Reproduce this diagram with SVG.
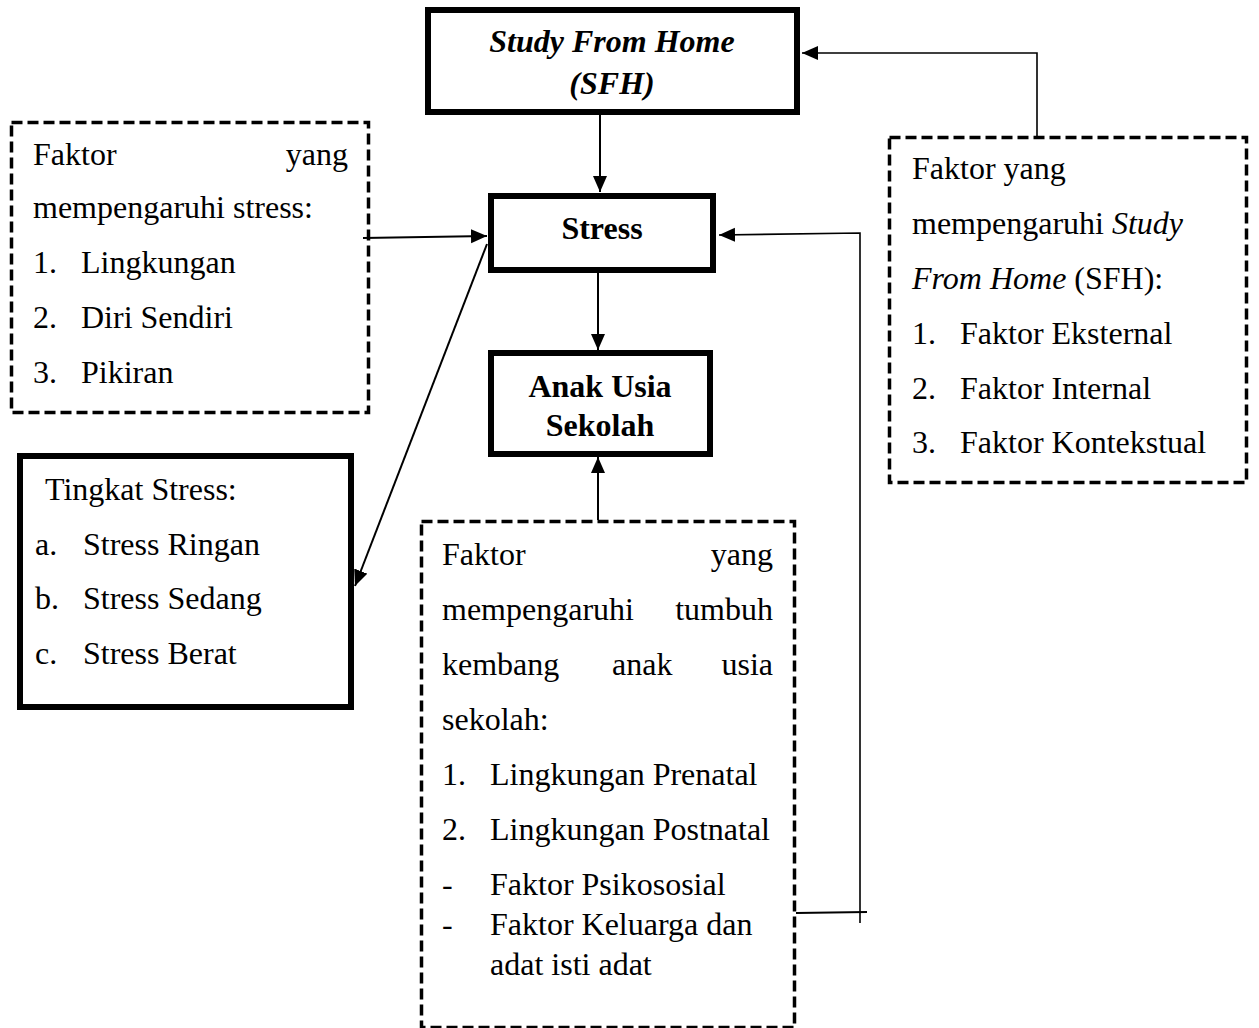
<svg xmlns="http://www.w3.org/2000/svg" width="1259" height="1028" viewBox="0 0 1259 1028">
<style>
text{font-family:"Liberation Serif","Times New Roman",serif;font-size:32px;fill:#000}
.b{font-weight:bold}
.c{text-anchor:middle}
.e{text-anchor:end}
.i{font-style:italic}
.solid{fill:#fff;stroke:#000;stroke-width:6}
.dash{fill:#fff;stroke:#000;stroke-width:3.5;stroke-dasharray:11 5}
.ln{fill:none;stroke:#000;stroke-width:2}
.thin{fill:none;stroke:#000;stroke-width:1.6}
</style>
<defs>
<marker id="ah" markerUnits="userSpaceOnUse" markerWidth="17" markerHeight="15" refX="16" refY="7" orient="auto">
<path d="M0,0 L16,7 L0,14 z" fill="#000"/>
</marker>
</defs>
<rect width="1259" height="1028" fill="#fff"/>

<g id="sfh">
<rect class="solid" x="428" y="10" width="369" height="102"/>
<text class="b i c" x="612" y="52">Study From Home</text>
<text class="b i c" x="612" y="94">(SFH)</text>
</g>

<g id="stress">
<rect class="solid" x="491" y="196" width="222" height="74"/>
<text class="b c" x="602" y="239">Stress</text>
</g>

<g id="anak">
<rect class="solid" x="491" y="353" width="219" height="101"/>
<text class="b c" x="600" y="397">Anak Usia</text>
<text class="b c" x="600" y="436">Sekolah</text>
</g>

<g id="faktor-stress">
<rect class="dash" x="11.5" y="122.5" width="357" height="290"/>
<text x="33" y="165">Faktor</text>
<text class="e" x="348" y="165">yang</text>
<text x="33" y="218">mempengaruhi stress:</text>
<text x="33" y="273">1.</text><text x="81" y="273">Lingkungan</text>
<text x="33" y="328">2.</text><text x="81" y="328">Diri Sendiri</text>
<text x="33" y="383">3.</text><text x="81" y="383">Pikiran</text>
</g>

<g id="tingkat-stress">
<rect class="solid" x="20" y="456" width="331" height="251"/>
<text x="45" y="500">Tingkat Stress:</text>
<text x="35" y="555">a.</text><text x="83" y="555">Stress Ringan</text>
<text x="35" y="609">b.</text><text x="83" y="609">Stress Sedang</text>
<text x="35" y="664">c.</text><text x="83" y="664">Stress Berat</text>
</g>

<g id="faktor-sfh">
<rect class="dash" x="889.5" y="137.5" width="357" height="345"/>
<text x="912" y="179">Faktor yang</text>
<text x="912" y="234">mempengaruhi <tspan class="i">Study</tspan></text>
<text x="912" y="289"><tspan class="i">From Home</tspan> (SFH):</text>
<text x="912" y="344">1.</text><text x="960" y="344">Faktor Eksternal</text>
<text x="912" y="399">2.</text><text x="960" y="399">Faktor Internal</text>
<text x="912" y="453">3.</text><text x="960" y="453">Faktor Kontekstual</text>
</g>

<g id="faktor-tumbuh">
<rect class="dash" x="421.5" y="521.5" width="373" height="506"/>
<text x="442" y="565">Faktor</text>
<text class="e" x="773" y="565">yang</text>
<text x="442" y="620">mempengaruhi</text>
<text class="e" x="773" y="620">tumbuh</text>
<text x="442" y="675">kembang</text>
<text x="612" y="675">anak</text>
<text class="e" x="773" y="675">usia</text>
<text x="442" y="730">sekolah:</text>
<text x="442" y="785">1.</text><text x="490" y="785">Lingkungan Prenatal</text>
<text x="442" y="840">2.</text><text x="490" y="840">Lingkungan Postnatal</text>
<text x="442" y="895">-</text><text x="490" y="895">Faktor Psikososial</text>
<text x="442" y="935">-</text><text x="490" y="935">Faktor Keluarga dan</text>
<text x="490" y="975">adat isti adat</text>
</g>

<g id="connectors">
<line class="ln" x1="600" y1="115" x2="600" y2="192" marker-end="url(#ah)"/>
<line class="ln" x1="598" y1="273" x2="598" y2="350" marker-end="url(#ah)"/>
<line class="ln" x1="598" y1="520" x2="598" y2="457" marker-end="url(#ah)"/>
<line class="ln" x1="363" y1="238" x2="487" y2="236" marker-end="url(#ah)"/>
<line class="ln" x1="487" y1="244" x2="355" y2="586" marker-end="url(#ah)"/>
<path class="thin" d="M1037,136 L1037,53 L802,53" marker-end="url(#ah)"/>
<path class="thin" d="M860,923 L860,233 L719,235" marker-end="url(#ah)"/>
<line class="ln" x1="796" y1="913" x2="867" y2="912"/>
</g>
</svg>
